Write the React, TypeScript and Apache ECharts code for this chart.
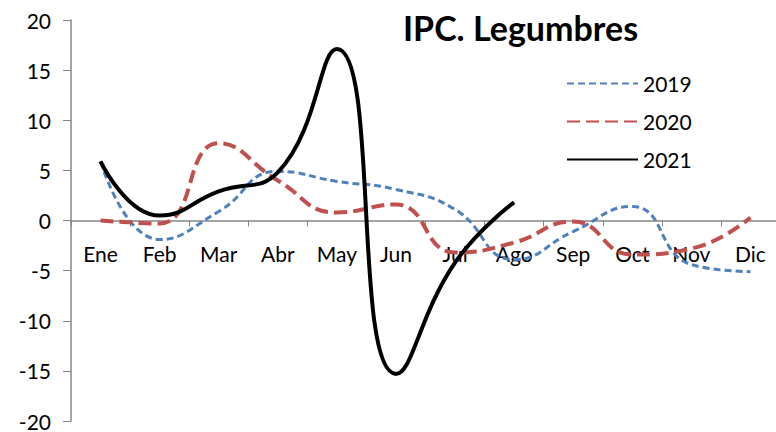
import React, { useEffect, useRef } from "react";
import * as echarts from "echarts";

const months = ["Ene", "Feb", "Mar", "Abr", "May", "Jun", "Jul", "Ago", "Sep", "Oct", "Nov", "Dic"];
const y2019 = [5.9, -1.9, 0.9, 4.9, 3.9, 3.1, 1.1, -3.9, -1.1, 1.4, -4.4, -5.1];
const y2020 = [0, -0.3, 7.7, 4.0, 0.8, 1.6, -3.2, -2.2, -0.1, -3.4, -2.8, 0.3];
const y2021: (number | null)[] = [5.9, 0.5, 2.9, 4.8, 17.1, -15.3, -4.2, 1.8, null, null, null, null];
const seriesNames = ["2019", "2020", "2021"];
const title = "IPC. Legumbres";

const FONT = "Lato";

export default function App() {
  const ref = useRef<HTMLDivElement>(null);
  useEffect(() => {
    if (!ref.current) return;
    const chart = echarts.init(ref.current, undefined, { renderer: "svg" });
    chart.setOption({
      animation: false,
      backgroundColor: "#ffffff",
      textStyle: { fontFamily: FONT },
      title: {
        text: title,
        left: 403,
        top: 10,
        padding: 0,
        textStyle: { fontFamily: FONT, fontSize: 34, fontWeight: "bold", color: "#000" },
      },
      legend: {
        orient: "vertical",
        left: 566,
        top: 73,
        padding: 0,
        itemWidth: 71,
        itemHeight: 20,
        itemGap: 17,
        itemStyle: { opacity: 0, borderWidth: 0 },
        textStyle: { fontFamily: FONT, fontSize: 21, color: "#000" },
        data: seriesNames,
      },
      grid: { left: 71, right: -4, top: 20, bottom: 11, containLabel: false, outerBoundsMode: "none" },
      xAxis: {
        type: "category",
        data: months,
        boundaryGap: true,
        offset: -200.5,
        axisLine: { onZero: false, lineStyle: { color: "#868686", width: 1.5 } },
        axisTick: { show: true, length: 6, lineStyle: { color: "#868686" } },
        axisLabel: { margin: 22, fontFamily: FONT, fontSize: 21, color: "#000" },
        splitLine: { show: false },
      },
      yAxis: {
        type: "value",
        min: -20,
        max: 20,
        interval: 5,
        axisLine: { show: true, lineStyle: { color: "#868686", width: 1.5 } },
        axisTick: { show: true, length: 8, lineStyle: { color: "#868686" } },
        axisLabel: { margin: 20, fontFamily: FONT, fontSize: 21, color: "#000" },
        splitLine: { show: false },
      },
      series: [
        {
          name: seriesNames[0],
          type: "line",
          data: y2019,
          smooth: 0.5,
          showSymbol: false,
          lineStyle: { color: "#4F81BD", width: 3, type: [7, 4] },
          itemStyle: { color: "#4F81BD" },
          z: 2,
        },
        {
          name: seriesNames[1],
          type: "line",
          data: y2020,
          smooth: 0.5,
          showSymbol: false,
          lineStyle: { color: "#C0504D", width: 4, type: [13, 6] },
          itemStyle: { color: "#C0504D" },
          z: 3,
        },
        {
          name: seriesNames[2],
          type: "line",
          data: y2021,
          smooth: 0.5,
          showSymbol: false,
          connectNulls: false,
          lineStyle: { color: "#000000", width: 4 },
          itemStyle: { color: "#000000" },
          z: 4,
        },
      ],
    });
    return () => chart.dispose();
  }, []);
  return <div ref={ref} style={{ width: 776, height: 432, position: "absolute", left: 0, top: 0 }} />;
}
